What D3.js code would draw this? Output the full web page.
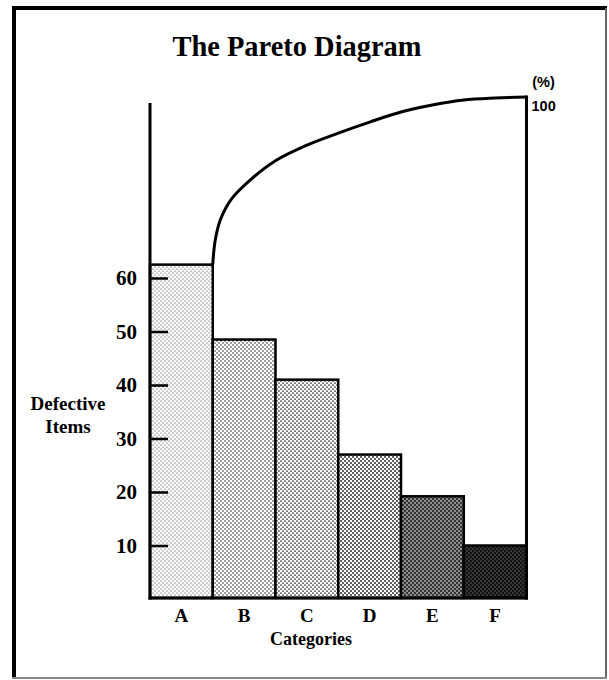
<!DOCTYPE html>
<html>
<head>
<meta charset="utf-8">
<script src="https://cdn.jsdelivr.net/npm/d3@7/dist/d3.min.js"></script>
<style>
  html, body { margin: 0; padding: 0; background: #fff; }
  svg { display: block; }
</style>
</head>
<body>
<div id="chart"></div>
<script>
// ---- data ----
const categories = ["A", "B", "C", "D", "E", "F"];
const defectiveItems = [62.5, 48.5, 41, 27, 19.2, 10];
// cumulative curve, read along the category axis (position in category widths)
const curvePos = [1.0, 1.04, 1.12, 1.3, 1.6, 2.0, 2.5, 3.0, 3.5, 4.0, 4.5, 5.0, 5.5, 6.0];
const curvePct = [66.7, 71.5, 75.5, 79.7, 83.5, 87.3, 90.4, 92.8, 95.0, 97.0, 98.4, 99.4, 99.8, 100];
const yTickValues = [10, 20, 30, 40, 50, 60];
const pctTickValues = [100];

// ---- layout ----
const W = 609, H = 680;
const serif = "'Liberation Serif', 'Times New Roman', Times, serif";
const sans = "'Liberation Sans', Arial, sans-serif";

const svg = d3.select("#chart").append("svg").attr("width", W).attr("height", H);

// patterns (bar textures)
const defs = svg.append("defs");
const patternStyles = [
  { bg: "#ffffff", dot: "#2a2a2a", r: 0.62 },
  { bg: "#ffffff", dot: "#222222", r: 0.82 },
  { bg: "#ffffff", dot: "#222222", r: 0.85 },
  { bg: "#ffffff", dot: "#1a1a1a", r: 0.95 },
  { bg: "#333333", dot: "#ffffff", r: 0.8 },
  { bg: "#111111", dot: "#bbbbbb", r: 0.55 }
];
patternStyles.forEach((p, i) => {
  const pat = defs.append("pattern")
    .attr("id", "pat" + i)
    .attr("patternUnits", "userSpaceOnUse")
    .attr("width", 4).attr("height", 4);
  pat.append("rect").attr("width", 4).attr("height", 4).attr("fill", p.bg);
  pat.append("circle").attr("cx", 1).attr("cy", 1).attr("r", p.r).attr("fill", p.dot);
  pat.append("circle").attr("cx", 3).attr("cy", 3).attr("r", p.r).attr("fill", p.dot);
});

// frame
svg.append("line").attr("x1", 14).attr("y1", 6).attr("x2", 14).attr("y2", 679).attr("stroke", "#000").attr("stroke-width", 4);
svg.append("line").attr("x1", 12).attr("y1", 8).attr("x2", 607).attr("y2", 8).attr("stroke", "#000").attr("stroke-width", 4);
svg.append("line").attr("x1", 606).attr("y1", 8).attr("x2", 606).attr("y2", 679).attr("stroke", "#666").attr("stroke-width", 2);
svg.append("line").attr("x1", 12).attr("y1", 678).attr("x2", 607).attr("y2", 678).attr("stroke", "#888").attr("stroke-width", 2);

// scales
const x = d3.scaleBand().domain(categories).range([150, 526.5]).padding(0);
const xPos = d3.scaleLinear().domain([0, categories.length]).range(x.range());
const y = d3.scaleLinear().domain([0, 60]).range([599, 278]);
const pct = d3.scaleLinear().domain([0, 100]).range([599, 97]);
const baseY = 598;

// bars
svg.append("g").selectAll("rect")
  .data(categories)
  .join("rect")
  .attr("x", d => x(d))
  .attr("y", (d, i) => y(defectiveItems[i]))
  .attr("width", x.bandwidth())
  .attr("height", (d, i) => baseY - y(defectiveItems[i]))
  .attr("fill", (d, i) => `url(#pat${i})`)
  .attr("stroke", "#000")
  .attr("stroke-width", 2.5);

// left axis
const yAxis = d3.axisLeft(y).tickValues(yTickValues).tickSize(-18).tickPadding(13).tickFormat(d3.format("d"));
const gy = svg.append("g").attr("transform", "translate(150,0)").call(yAxis);
gy.select(".domain").remove();
gy.selectAll(".tick line").attr("stroke", "#000").attr("stroke-width", 2.5);
gy.selectAll(".tick text")
  .attr("font-family", serif).attr("font-weight", "bold").attr("font-size", 21).attr("fill", "#000");
svg.append("line").attr("x1", 150).attr("x2", 150).attr("y1", 103).attr("y2", baseY + 1.5)
  .attr("stroke", "#000").attr("stroke-width", 3);

// baseline
svg.append("line").attr("x1", 148.5).attr("x2", 528).attr("y1", baseY).attr("y2", baseY)
  .attr("stroke", "#000").attr("stroke-width", 3);

// right axis line
const rx = xPos(categories.length);
svg.append("line").attr("x1", rx).attr("x2", rx).attr("y1", pct(100) - 1.5).attr("y2", baseY + 1.5)
  .attr("stroke", "#000").attr("stroke-width", 3);

// cumulative curve
const line = d3.line()
  .x(d => xPos(d[0]))
  .y(d => pct(d[1]))
  .curve(d3.curveCatmullRom.alpha(0.5));
svg.append("path")
  .datum(curvePos.map((p, i) => [p, curvePct[i]]))
  .attr("d", line)
  .attr("fill", "none")
  .attr("stroke", "#000")
  .attr("stroke-width", 3);

// percent labels
svg.append("g").selectAll("text")
  .data(pctTickValues)
  .join("text")
  .attr("x", rx + 5)
  .attr("y", d => pct(d) + 13.5)
  .attr("font-family", sans).attr("font-weight", "bold").attr("font-size", 14.5)
  .text(d => d);
svg.append("text")
  .attr("x", rx + 17).attr("y", 87)
  .attr("text-anchor", "middle")
  .attr("font-family", sans).attr("font-weight", "bold").attr("font-size", 14.5)
  .text("(%)");

// x labels
svg.append("g").selectAll("text")
  .data(categories)
  .join("text")
  .attr("x", d => x(d) + x.bandwidth() / 2)
  .attr("y", 622)
  .attr("text-anchor", "middle")
  .attr("font-family", serif).attr("font-weight", "bold").attr("font-size", 19)
  .text(d => d);

svg.append("text")
  .attr("x", 311).attr("y", 645)
  .attr("text-anchor", "middle")
  .attr("font-family", serif).attr("font-weight", "bold").attr("font-size", 18)
  .text("Categories");

// y title
const yt = svg.append("text")
  .attr("text-anchor", "middle")
  .attr("font-family", serif).attr("font-weight", "bold").attr("font-size", 19);
yt.append("tspan").attr("x", 68).attr("y", 410).text("Defective");
yt.append("tspan").attr("x", 68).attr("y", 433).text("Items");

// title
svg.append("text")
  .attr("x", 297).attr("y", 56)
  .attr("text-anchor", "middle")
  .attr("font-family", serif).attr("font-weight", "bold").attr("font-size", 30)
  .attr("textLength", 249).attr("lengthAdjust", "spacingAndGlyphs")
  .text("The Pareto Diagram");
</script>
</body>
</html>
